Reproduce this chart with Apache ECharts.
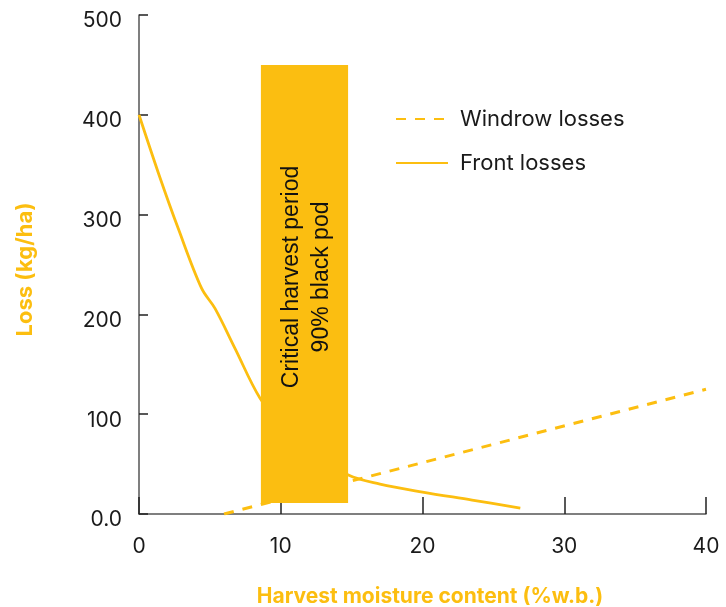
<!DOCTYPE html>
<html>
<head>
<meta charset="utf-8">
<script src="https://cdn.jsdelivr.net/npm/echarts@6/dist/echarts.min.js"></script>
<style>html,body{margin:0;padding:0;background:#fff;}#c{width:726px;height:607px;}</style>
</head>
<body>
<div id="c"></div>
<script>
// Data
var xTicks = [0, 10, 20, 30, 40];
var yTicks = [0, 100, 200, 300, 400, 500];
var windrowLosses = [[6, 0], [40, 125]];
var frontLosses = [[0, 400], [1.36, 342], [2.77, 286], [4.42, 226], [5.36, 206], [6.77, 166], [8.54, 116], [10, 92], [12, 64], [14.77, 39], [17, 30], [20, 22], [23.5, 14], [26.9, 6]];
var criticalPeriod = [[8.6, 14.75, 11, 450]];
var criticalLabel = 'Critical harvest period\n90% black pod';

var ORANGE = '#FCBE10';
var FONT = 'Inter';
var chart = echarts.init(document.getElementById('c'), null, {renderer: 'canvas'});
chart.setOption({
  animation: false,
  backgroundColor: '#fff',
  grid: {left: 139, right: 20, top: 15, bottom: 93, containLabel: false, outerBoundsMode: 'none'},
  legend: {
    orient: 'vertical',
    left: 390, top: 103,
    itemWidth: 52, itemHeight: 14, itemGap: 22,
    itemStyle: {opacity: 0},
    textStyle: {fontFamily: FONT, fontSize: 22, color: '#1a1a1a', padding: [0, 0, 0, 7]},
    data: ['Windrow losses', 'Front losses']
  },
  xAxis: {
    type: 'value', min: 0, max: 40, interval: 10,
    name: 'Harvest moisture content (%w.b.)', nameLocation: 'middle', nameGap: 72,
    nameTextStyle: {fontFamily: FONT, fontWeight: 'bold', fontSize: 21, color: ORANGE, padding: [0, 0, 0, 15]},
    axisLine: {show: true, lineStyle: {color: '#555', width: 1.5}},
    axisTick: {show: true, inside: true, length: 17, lineStyle: {color: '#222', width: 1.5}},
    axisLabel: {fontFamily: FONT, fontSize: 21, color: '#1a1a1a', margin: 22},
    splitLine: {show: false}
  },
  yAxis: {
    type: 'value', min: 0, max: 500, interval: 100,
    name: 'Loss (kg/ha)', nameLocation: 'middle', nameGap: 103, nameRotate: 90,
    nameTextStyle: {fontFamily: FONT, fontWeight: 'bold', fontSize: 22, color: ORANGE, padding: [0, 10, 0, 0]},
    axisLine: {show: true, lineStyle: {color: '#555', width: 1.5}},
    axisTick: {show: true, inside: true, length: 9, lineStyle: {color: '#222', width: 1.5}},
    axisLabel: {fontFamily: FONT, fontSize: 21, color: '#1a1a1a', margin: 17, verticalAlign: 'top', lineHeight: 12,
      formatter: function (v) { return v === 0 ? '0.0' : String(v); }},
    splitLine: {show: false}
  },
  series: [
    {
      name: 'Windrow losses', type: 'line', data: windrowLosses, symbol: 'none', z: 2,
      lineStyle: {color: ORANGE, width: 3, type: [10, 9]}, itemStyle: {color: ORANGE}
    },
    {
      name: 'Front losses', type: 'line', data: frontLosses, symbol: 'none', smooth: 0.35, z: 2,
      lineStyle: {color: ORANGE, width: 2.8}, itemStyle: {color: ORANGE}
    },
    {
      type: 'custom', data: criticalPeriod, z: 5, silent: true,
      renderItem: function (params, api) {
        var p0 = api.coord([api.value(0), api.value(3)]);
        var p1 = api.coord([api.value(1), api.value(2)]);
        var cx = (p0[0] + p1[0]) / 2, cy = (p0[1] + p1[1]) / 2;
        return {
          type: 'group',
          children: [
            {type: 'rect', shape: {x: p0[0], y: p0[1], width: p1[0] - p0[0], height: p1[1] - p0[1]},
             style: {fill: '#FBBE11'}},
            {type: 'text', x: cx + 2, y: cy - 7, rotation: Math.PI / 2,
             style: {text: criticalLabel, fontFamily: 'Liberation Sans', fontSize: 23, lineHeight: 30,
               fill: '#111', align: 'center', verticalAlign: 'middle'}}
          ]
        };
      }
    }
  ]
});
</script>
</body>
</html>
